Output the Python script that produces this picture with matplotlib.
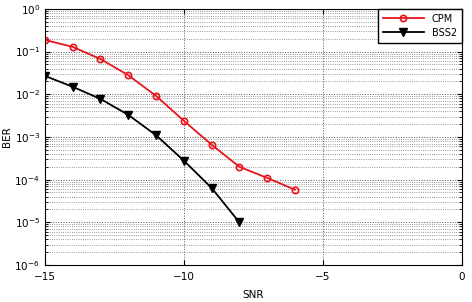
import matplotlib
matplotlib.use("Agg")
import matplotlib.pyplot as plt

# data
snr_cpm = [-15, -14, -13, -12, -11, -10, -9, -8, -7, -6]
ber_cpm = [0.188, 0.129, 0.067, 0.028, 0.0092, 0.0024, 6.6e-4, 2.0e-4, 1.1e-4, 5.8e-5]
snr_bss = [-15, -14, -13, -12, -11, -10, -9, -8]
ber_bss = [0.027, 0.015, 0.0078, 0.0033, 0.0011, 2.8e-4, 6.4e-5, 1.0e-5]

plt.rcParams["font.family"] = "DejaVu Sans"
plt.rcParams["font.size"] = 7.5

fig = plt.figure(figsize=(4.72, 3.02), dpi=100)
ax = fig.add_axes([0.095, 0.1225, 0.883, 0.848])

ax.semilogy(snr_cpm, ber_cpm, color="#e8141b", marker="o", markersize=4.5,
            markerfacecolor="none", markeredgewidth=1.2, linewidth=1.3, label="CPM")
ax.semilogy(snr_bss, ber_bss, color="black", marker="v", markersize=6,
            markerfacecolor="black", linewidth=1.3, label="BSS2")

ax.set_xlim(-15, 0)
ax.set_ylim(1e-6, 1)
ax.set_xticks([-15, -10, -5, 0])
ax.set_xlabel("SNR", labelpad=6)
ax.set_ylabel("BER", labelpad=2)
ax.grid(True, which="major", linestyle=":", color="#555555", linewidth=0.7)
ax.grid(True, which="minor", linestyle=":", color="#777777", linewidth=0.6)
ax.tick_params(which="both", direction="in", top=True, right=True)
ax.tick_params(axis="x", pad=5)

ax.legend(loc="upper right", fancybox=False, edgecolor="black", framealpha=1,
          borderaxespad=0, handlelength=4.2, borderpad=0.5, labelspacing=0.4,
          fontsize=7)

fig.savefig("out.png", dpi=100)
